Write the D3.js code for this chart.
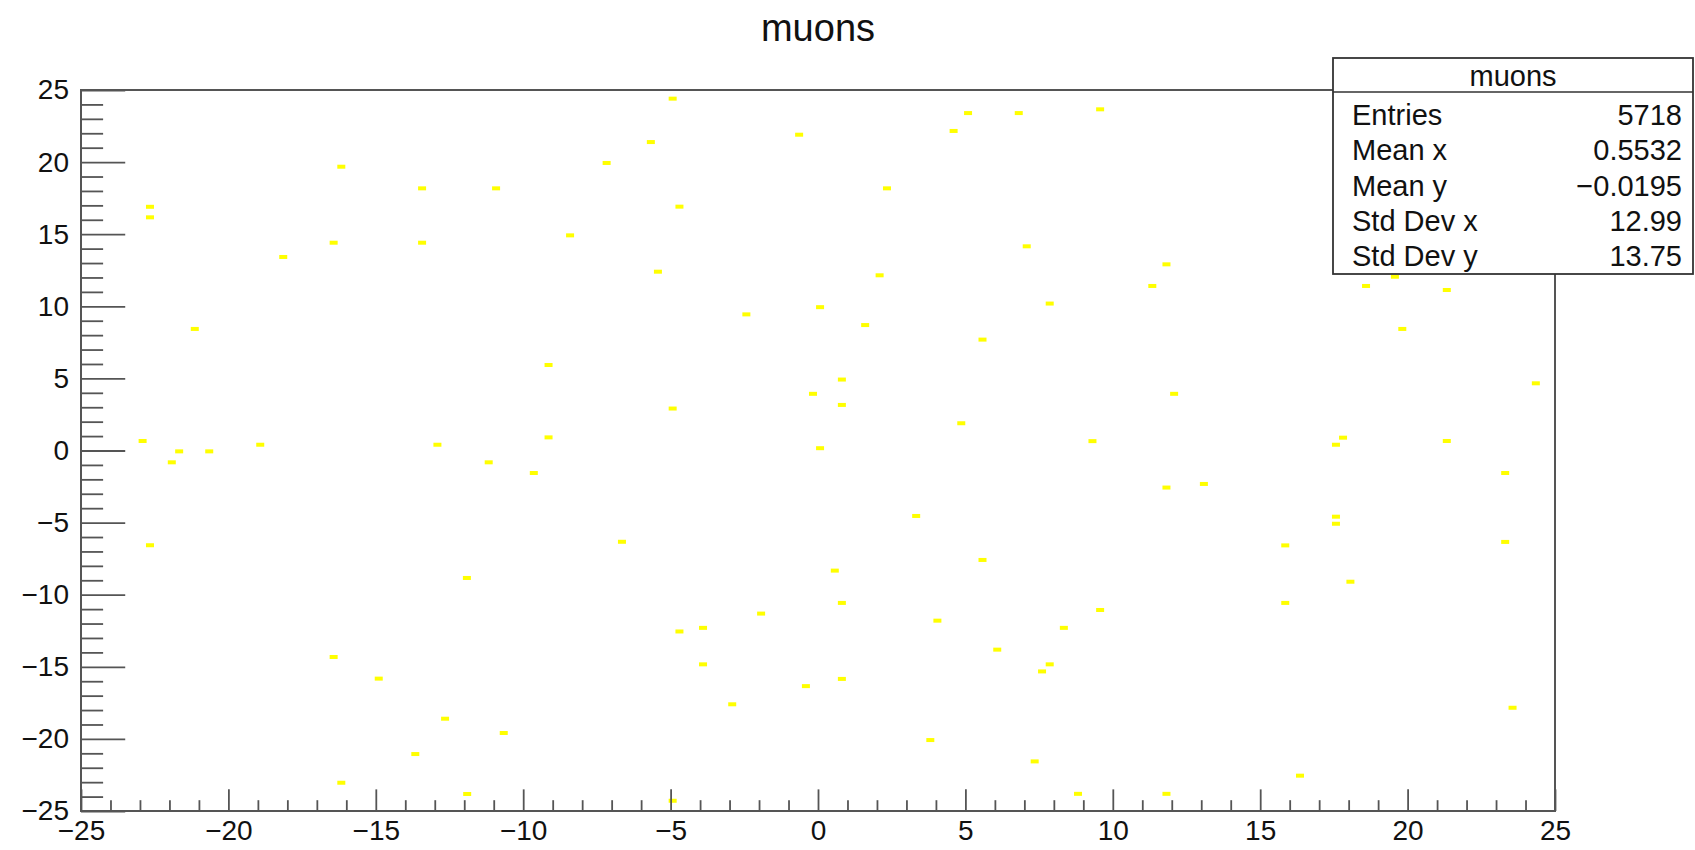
<!DOCTYPE html>
<html>
<head>
<meta charset="utf-8">
<script src="https://cdn.jsdelivr.net/npm/d3@7"></script>
<style>
  body { margin: 0; background: #fff; }
  text { font-family: "Liberation Sans", Arial, sans-serif; fill: #111; }
</style>
</head>
<body>
<div id="chart1"></div>
<script>
"use strict";

// == DATA ==
var muonX = [
  -22.66, -22.66, -16.17, -13.43, -10.92, -18.14, -16.43, -13.43, -8.41,
  -4.93, -5.67, -7.17, -0.64, 5.09, 6.81, 9.57, 4.60, 2.34, -4.70, 7.08, 11.82, 11.34, -5.43, 2.09,
  -21.14, -9.14, -22.91, -21.92, -21.67, -20.65, -18.92, -12.91, -11.17, -9.64, -9.14, -22.66, -11.91,
  -16.43, -14.90, -12.65, -10.66, -13.66, -16.17, -11.90,
  23.56,
  -2.43, 0.07, 1.60, 7.86, 5.58, 0.81, -0.17, 0.81, -4.93, 4.86, 9.31, 12.08, 0.07, 11.82, 13.09,
  3.33, -6.65, 5.58, 0.57, 15.85, 0.81, 9.57, 15.85, -1.93, 4.05, -3.90, -4.70, 8.34, 6.08, -3.90,
  7.86, 7.60, 0.81, -0.41, -2.91, 3.81, 7.35, 8.82, 11.82, -4.93, 16.35,
  18.59, 19.57, 21.33, 19.82, 24.35, 17.81, 17.57, 21.33, 23.31, 17.57, 17.57, 23.31, 18.06
];
var muonY = [
  16.90, 16.17, 19.68, 18.18, 18.18, 13.42, 14.41, 14.41, 14.92,
  24.40, 21.39, 19.94, 21.90, 23.40, 23.40, 23.66, 22.16, 18.18, 16.91, 14.16, 12.91, 11.41, 12.40, 12.15,
  8.43, 5.93, 0.66, -0.82, -0.06, -0.06, 0.40, 0.40, -0.82, -1.56, 0.91, -6.57, -8.84,
  -14.32, -15.82, -18.60, -19.59, -21.05, -23.04, -23.82,
  -17.84,
  9.44, 9.94, 8.70, 10.19, 7.69, 4.92, 3.93, 3.16, 2.91, 1.89, 0.65, 3.93, 0.16, -2.57, -2.32,
  -4.54, -6.33, -7.59, -8.33, -6.58, -10.57, -11.06, -10.57, -11.31, -11.80, -12.30, -12.55, -12.30, -13.81, -14.83,
  -14.83, -15.32, -15.84, -16.34, -17.60, -20.08, -21.56, -23.81, -23.81, -24.29, -22.55,
  11.41, 12.05, 11.13, 8.43, 4.66, 0.89, 0.40, 0.66, -1.56, -4.59, -5.08, -6.34, -9.10
];

var xMajor = [-25, -20, -15, -10, -5, 0, 5, 10, 15, 20, 25];
var yMajor = [-25, -20, -15, -10, -5, 0, 5, 10, 15, 20, 25];
var minorTicks = d3.range(-24, 25).filter(function (v) { return v % 5 !== 0; });

var statNames = ["Entries", "Mean x", "Mean y", "Std Dev x", "Std Dev y"];
var statValues = ["5718", "0.5532", "\u22120.0195", "12.99", "13.75"];
var title = "muons";

// == BOILERPLATE ==
var width = 1695, height = 850;
var frame = { left: 81, right: 1555, top: 90, bottom: 811 };

var svg = d3.select("#chart1")
  .append("svg")
  .attr("width", width)
  .attr("height", height);

var x = d3.scaleLinear().domain([-25, 25]).range([frame.left, frame.right]);
var y = d3.scaleLinear().domain([-25, 25]).range([frame.bottom, frame.top]);

var xLen = (frame.bottom - frame.top) * 0.03;
var yLen = (frame.right - frame.left) * 0.03;

// == POINTS ==
svg.append("g").selectAll("rect")
  .data(d3.range(muonX.length))
  .enter()
  .append("rect")
  .attr("x", function (i) { return x(muonX[i]) - 4; })
  .attr("y", function (i) { return y(muonY[i]) - 2; })
  .attr("width", 8)
  .attr("height", 4)
  .attr("fill", "#ffff00");

// == AXES ==
function styleAxis(g) {
  g.select(".domain").remove();
  g.selectAll(".tick line").attr("stroke", "#555").attr("stroke-width", 1.8);
  g.selectAll("text").attr("font-size", 28).attr("fill", "#111")
    .style("font-family", "'Liberation Sans', Arial, sans-serif");
}

svg.append("g")
  .attr("transform", "translate(0," + frame.bottom + ")")
  .call(d3.axisBottom(x).tickValues(xMajor).tickSize(-xLen).tickPadding(9))
  .call(styleAxis);

svg.append("g")
  .attr("transform", "translate(0," + frame.bottom + ")")
  .call(d3.axisBottom(x).tickValues(minorTicks).tickSize(-xLen / 2).tickFormat(""))
  .call(styleAxis);

svg.append("g")
  .attr("transform", "translate(" + frame.left + ",0)")
  .call(d3.axisLeft(y).tickValues(yMajor).tickSize(-yLen).tickPadding(12))
  .call(styleAxis);

svg.append("g")
  .attr("transform", "translate(" + frame.left + ",0)")
  .call(d3.axisLeft(y).tickValues(minorTicks).tickSize(-yLen / 2).tickFormat(""))
  .call(styleAxis);

// frame
svg.append("rect")
  .attr("x", frame.left)
  .attr("y", frame.top)
  .attr("width", frame.right - frame.left)
  .attr("height", frame.bottom - frame.top)
  .attr("fill", "none")
  .attr("stroke", "#555")
  .attr("stroke-width", 2);

// == TITLE ==
svg.append("text")
  .attr("x", (frame.left + frame.right) / 2)
  .attr("y", 41)
  .attr("text-anchor", "middle")
  .attr("font-size", 38)
  .text(title);

// == STATS BOX ==
var box = { x0: 1333, x1: 1693, y0: 58, y1: 274, head: 92 };
var rowY = d3.scaleLinear().domain([0, 4]).range([125, 266]);
var stats = svg.append("g");

stats.append("rect")
  .attr("x", box.x0)
  .attr("y", box.y0)
  .attr("width", box.x1 - box.x0)
  .attr("height", box.y1 - box.y0)
  .attr("fill", "#fff")
  .attr("stroke", "#333")
  .attr("stroke-width", 1.8);

stats.append("line")
  .attr("x1", box.x0).attr("x2", box.x1)
  .attr("y1", box.head).attr("y2", box.head)
  .attr("stroke", "#333")
  .attr("stroke-width", 1.5);

stats.append("text")
  .attr("x", (box.x0 + box.x1) / 2)
  .attr("y", 86)
  .attr("text-anchor", "middle")
  .attr("font-size", 29)
  .text(title);

stats.selectAll(".sname")
  .data(statNames)
  .enter()
  .append("text")
  .attr("class", "sname")
  .attr("x", 1352)
  .attr("y", function (d, i) { return rowY(i); })
  .attr("font-size", 29)
  .text(function (d) { return d; });

stats.selectAll(".sval")
  .data(statValues)
  .enter()
  .append("text")
  .attr("class", "sval")
  .attr("x", 1682)
  .attr("y", function (d, i) { return rowY(i); })
  .attr("text-anchor", "end")
  .attr("font-size", 29)
  .text(function (d) { return d; });
</script>
</body>
</html>
